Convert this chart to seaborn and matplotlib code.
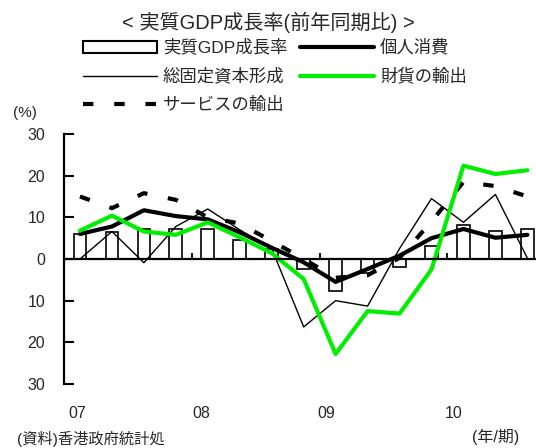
import numpy as np
import pandas as pd
import matplotlib
matplotlib.use("Agg")
import matplotlib.pyplot as plt
import seaborn as sns
from matplotlib.patches import Patch
from matplotlib.lines import Line2D

# Quarterly year-on-year growth, 2007 Q1 - 2010 Q3 (%)
quarters = ["07Q1", "07Q2", "07Q3", "07Q4", "08Q1", "08Q2", "08Q3", "08Q4",
            "09Q1", "09Q2", "09Q3", "09Q4", "10Q1", "10Q2", "10Q3"]
gdp = [5.9, 6.5, 7.3, 7.3, 7.1, 4.6, 2.5, -2.3, -7.6, -3.4, -1.9, 3.0, 8.1, 6.8, 7.2]
consumption = [6.0, 7.8, 11.7, 10.3, 9.5, 6.4, 2.7, -0.8, -5.5, -2.4, 0.8, 5.0, 7.2, 5.1, 5.8]
fixed_capital = [0.0, 6.6, -0.9, 7.8, 12.0, 7.0, 2.5, -16.3, -10.0, -11.3, 2.5, 14.5, 8.8, 15.5, 0.2]
goods_exports = [6.8, 10.4, 6.6, 5.8, 8.8, 5.2, 1.4, -4.8, -22.8, -12.5, -13.1, -2.5, 22.4, 20.4, 21.3]
service_exports = [15.0, 12.2, 15.8, 14.2, 10.0, 8.5, 4.3, 0.0, -4.5, -3.9, 0.3, 9.0, 18.5, 17.5, 15.0]

year_labels = ["07", "08", "09", "10"]
year_label_pos = [-0.1, 3.8, 7.7, 11.7]
year_bounds = [3.5, 7.5, 11.5]
y_ticks = [-30, -20, -10, 0, 10, 20, 30]

names = {
    "gdp": "実質GDP成長率",
    "consumption": "個人消費",
    "fixed_capital": "総固定資本形成",
    "goods": "財貨の輸出",
    "services": "サービスの輸出",
}

df = pd.DataFrame({
    "quarter": quarters,
    "pos": np.arange(len(quarters)),
    "gdp": gdp,
    "consumption": consumption,
    "fixed_capital": fixed_capital,
    "goods": goods_exports,
    "services": service_exports,
})

sns.set_theme(style="white")
plt.rcParams["font.family"] = ["Liberation Sans", "Noto Sans CJK JP"]

W, H = 536, 448
fig = plt.figure(figsize=(W / 100, H / 100), dpi=100)
ax = fig.add_axes([64 / W, 1 - 384 / H, 1 - 64 / W, 250 / H])

GREEN = "#00ee00"
dash_style = (0, (2.5, 5))

# GDP bars
sns.barplot(data=df, x="pos", y="gdp", native_scale=True, width=0.4,
            color="white", edgecolor="black", linewidth=1.2, saturation=1,
            ax=ax, zorder=2)

# component lines
sns.lineplot(data=df, x="pos", y="fixed_capital", color="black",
             linewidth=1.0, ax=ax, zorder=3)
sns.lineplot(data=df, x="pos", y="services", color="black",
             linewidth=3.0, ax=ax, zorder=3)
ax.lines[-1].set_linestyle(dash_style)
sns.lineplot(data=df, x="pos", y="consumption", color="black",
             linewidth=3.0, ax=ax, zorder=4)
sns.lineplot(data=df, x="pos", y="goods", color=GREEN,
             linewidth=3.0, ax=ax, zorder=4)

# zero axis with year separators
ax.axhline(0, color="black", lw=1.6, zorder=5)
ax.vlines(year_bounds, 0, 1.5, color="black", lw=1.3, zorder=5)

ax.set_xlim(-0.5, 14.27)
ax.set_ylim(-30, 30)
for s in ["top", "right", "bottom"]:
    ax.spines[s].set_visible(False)
ax.spines["left"].set_linewidth(1.6)
ax.spines["left"].set_color("black")

ax.set_yticks(y_ticks)
ax.set_yticklabels([str(abs(v)) for v in y_ticks])
ax.tick_params(axis="y", direction="in", length=7, width=1.5, color="black",
               pad=13.5, labelsize=11.5, left=True)
ax.set_xticks(year_label_pos)
ax.set_xticklabels(year_labels)
ax.tick_params(axis="x", length=0, pad=16, labelsize=11.5)
ax.set_xlabel("")
ax.set_ylabel("")
ax.grid(False)

fig.text(0.5, 1 - 22 / H, "< 実質GDP成長率(前年同期比) >", ha="center",
         va="center", fontsize=14.5)
fig.text(13 / W, 1 - 113 / H, "(%)", ha="left", va="center", fontsize=11)
fig.text(17 / W, 1 - 439 / H, "(資料)香港政府統計処", ha="left", va="center",
         fontsize=11)
fig.text(519 / W, 1 - 437 / H, "(年/期)", ha="right", va="center",
         fontsize=11.5)

handles = [
    Patch(facecolor="white", edgecolor="black", linewidth=1.5),
    Line2D([], [], color="black", lw=1.0),
    Line2D([], [], color="black", lw=3.0, linestyle=dash_style),
    Line2D([], [], color="black", lw=3.0),
    Line2D([], [], color=GREEN, lw=3.0),
]
labels = [names["gdp"], names["fixed_capital"], names["services"],
          names["consumption"], names["goods"]]
fig.legend(handles, labels, ncol=2, loc="upper left",
           bbox_to_anchor=(83 / W, 1 - 39 / H), frameon=False,
           fontsize=12.5, handlelength=4.25, handletextpad=0.35,
           columnspacing=0.75, labelspacing=0.7, borderpad=0,
           borderaxespad=0)

fig.savefig("out.png", dpi=100)
